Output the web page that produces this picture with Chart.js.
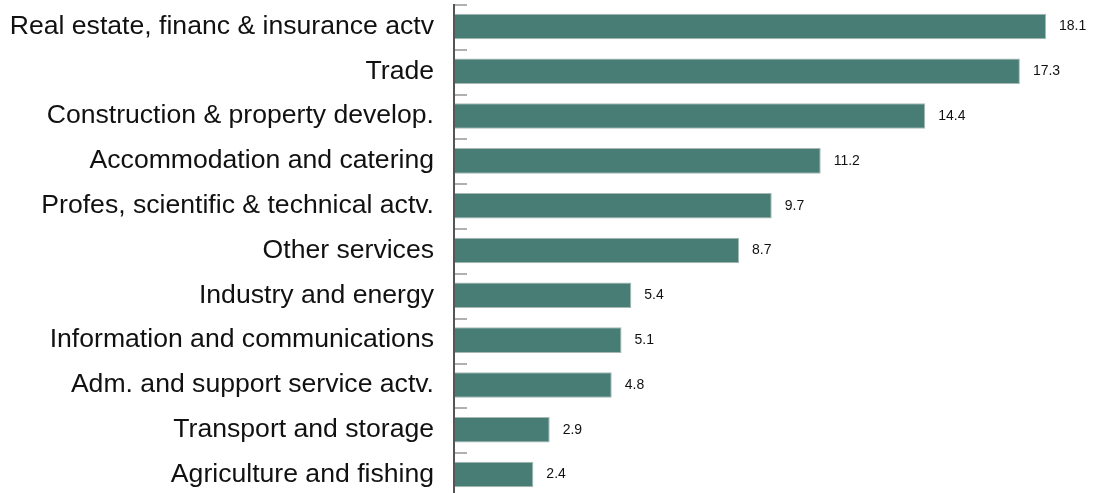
<!doctype html>
<html>
<head>
	<title>Sectors</title>
	<script src="https://cdn.jsdelivr.net/npm/chart.js@4/dist/chart.umd.min.js"></script>
	<style>
		html, body { margin: 0; padding: 0; background: #fff; overflow: hidden; }
		#holder { width: 1095px; height: 498px; }
	</style>
</head>
<body>
	<div id="holder"><canvas id="chart-area"></canvas></div>
	<script>
		const categories = [
			'Real estate, financ & insurance actv',
			'Trade',
			'Construction & property develop.',
			'Accommodation and catering',
			'Profes, scientific & technical actv.',
			'Other services',
			'Industry and energy',
			'Information and communications',
			'Adm. and support service actv.',
			'Transport and storage',
			'Agriculture and fishing'
		];
		const shares = [18.1, 17.3, 14.4, 11.2, 9.7, 8.7, 5.4, 5.1, 4.8, 2.9, 2.4];
		const xMax = 18.1;

		// axis line, little tick marks between rows and the numbers next to bars
		const decorations = {
			id: 'decorations',
			afterDatasetsDraw(chart) {
				const ctx = chart.ctx;
				const area = chart.chartArea;
				const y = chart.scales.y;
				const step = y.getPixelForTick(1) - y.getPixelForTick(0);
				ctx.save();
				ctx.strokeStyle = '#b0b0b0';
				ctx.lineWidth = 2;
				for (let i = 0; i < categories.length; i++) {
					const top = Math.round(y.getPixelForTick(i) - step / 2) + 1;
					ctx.beginPath();
					ctx.moveTo(area.left, top);
					ctx.lineTo(area.left + 12, top);
					ctx.stroke();
				}
				ctx.strokeStyle = '#555';
				ctx.lineWidth = 2;
				ctx.beginPath();
				ctx.moveTo(area.left - 1, area.top);
				ctx.lineTo(area.left - 1, chart.height);
				ctx.stroke();

				ctx.fillStyle = '#111';
				ctx.font = '14px "Liberation Sans", Arial, sans-serif';
				ctx.textBaseline = 'middle';
				chart.getDatasetMeta(0).data.forEach((bar, i) => {
					ctx.fillText(shares[i].toFixed(1), bar.x + 13, bar.y);
				});
				ctx.restore();
			}
		};

		const config = {
			type: 'bar',
			data: {
				labels: categories,
				datasets: [{
					data: shares,
					backgroundColor: '#477d74',
					borderColor: '#a7b8b4',
					borderWidth: 1,
					borderSkipped: 'left',
					categoryPercentage: 1,
					barPercentage: 0.57
				}]
			},
			options: {
				indexAxis: 'y',
				responsive: true,
				maintainAspectRatio: false,
				animation: false,
				layout: { padding: { top: 4, bottom: 1, right: 49, left: 0 } },
				plugins: {
					legend: { display: false },
					tooltip: { enabled: false }
				},
				scales: {
					x: {
						display: false,
						min: 0,
						max: xMax
					},
					y: {
						afterFit(scale) {
							scale.width = 455;
							scale.paddingTop = 0;
							scale.paddingBottom = 0;
						},
						grid: { display: false, drawTicks: false },
						border: { display: false },
						ticks: {
							color: '#111',
							padding: 21,
							font: { size: 26.6, family: '"Liberation Sans", Arial, sans-serif' }
						}
					}
				}
			},
			plugins: [decorations]
		};

		window.onload = function() {
			const ctx = document.getElementById('chart-area').getContext('2d');
			window.myBar = new Chart(ctx, config);
		};
	</script>
</body>
</html>
